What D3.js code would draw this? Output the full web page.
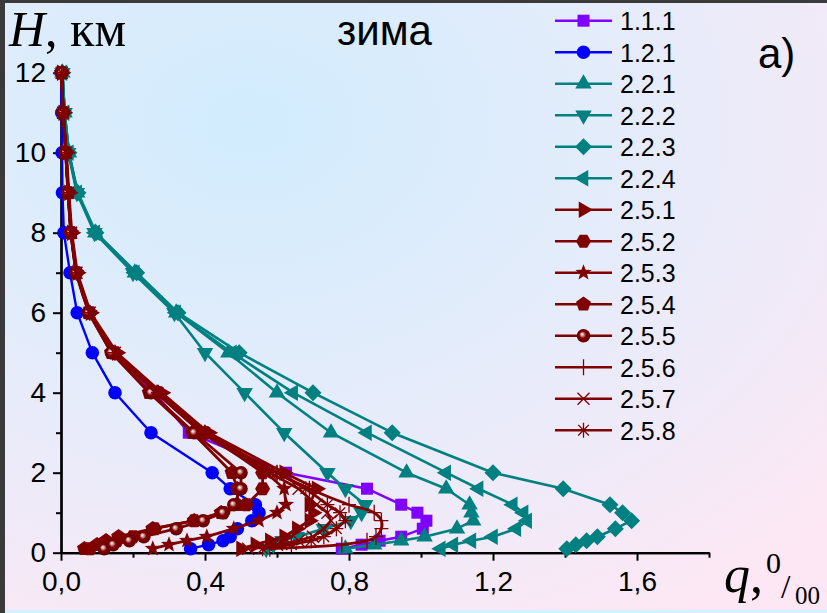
<!DOCTYPE html>
<html>
<head>
<meta charset="utf-8">
<script src="https://cdn.jsdelivr.net/npm/d3@7"></script>
<style>
  body { margin: 0; padding: 0; background: #fff; }
  svg { display: block; }
</style>
</head>
<body>
<svg id="chart" width="827" height="613"></svg>
<script>
// heights of the profile points, km
var heights = [0.1, 0.2, 0.3, 0.4, 0.6, 0.8, 1.0, 1.2, 1.6, 2, 3, 4, 5, 6, 7, 8, 9, 10, 11, 12];

// q values for each series (same order as heights)
var s111 = [0.78, 0.835, 0.885, 0.945, 1.005, 1.015, 0.99, 0.945, 0.85, 0.625, 0.355, 0.26, 0.145, 0.078, 0.042, 0.028, 0.02, 0.012, 0.006, 0.002];
var s121 = [0.36, 0.41, 0.45, 0.47, 0.49, 0.53, 0.55, 0.54, 0.47, 0.42, 0.25, 0.15, 0.087, 0.045, 0.025, 0.008, 0.004, 0.003, 0.002, 0.0];
var s221 = [0.79, 0.87, 0.945, 1.01, 1.10, 1.145, 1.14, 1.135, 1.07, 0.96, 0.75, 0.60, 0.465, 0.32, 0.205, 0.095, 0.045, 0.022, 0.01, 0.004];
var s222 = [0.57, 0.59, 0.615, 0.655, 0.73, 0.805, 0.835, 0.845, 0.79, 0.74, 0.62, 0.51, 0.40, 0.315, 0.20, 0.093, 0.044, 0.02, 0.01, 0.004];
var s223 = [1.405, 1.43, 1.46, 1.49, 1.54, 1.585, 1.56, 1.525, 1.395, 1.20, 0.92, 0.70, 0.495, 0.325, 0.21, 0.097, 0.047, 0.022, 0.01, 0.004];
var s224 = [1.055, 1.09, 1.14, 1.20, 1.265, 1.295, 1.285, 1.255, 1.16, 1.07, 0.85, 0.645, 0.475, 0.32, 0.205, 0.095, 0.045, 0.022, 0.01, 0.004];
var s251 = [0.50, 0.54, 0.58, 0.62, 0.655, 0.69, 0.70, 0.69, 0.71, 0.62, 0.41, 0.28, 0.155, 0.082, 0.045, 0.03, 0.022, 0.015, 0.006, 0.002];
var s252 = [0.08, 0.115, 0.155, 0.20, 0.26, 0.37, 0.45, 0.515, 0.56, 0.56, 0.40, 0.27, 0.15, 0.08, 0.043, 0.028, 0.02, 0.014, 0.006, 0.002];
var s253 = [0.255, 0.30, 0.35, 0.405, 0.48, 0.55, 0.60, 0.625, 0.62, 0.57, 0.39, 0.265, 0.15, 0.08, 0.043, 0.028, 0.02, 0.014, 0.006, 0.002];
var s254 = [0.065, 0.10, 0.125, 0.16, 0.255, 0.37, 0.445, 0.49, 0.49, 0.475, 0.365, 0.245, 0.14, 0.077, 0.042, 0.027, 0.02, 0.013, 0.006, 0.002];
var s255 = [0.12, 0.145, 0.19, 0.23, 0.32, 0.395, 0.45, 0.48, 0.50, 0.50, 0.37, 0.25, 0.14, 0.077, 0.042, 0.027, 0.019, 0.013, 0.006, 0.002];
var s256 = [0.58, 0.78, 0.85, 0.875, 0.89, 0.89, 0.87, 0.80, 0.69, 0.60, 0.40, 0.27, 0.15, 0.08, 0.043, 0.028, 0.02, 0.014, 0.006, 0.002];
var s257 = [0.52, 0.60, 0.66, 0.70, 0.73, 0.75, 0.74, 0.71, 0.66, 0.58, 0.39, 0.265, 0.15, 0.08, 0.043, 0.028, 0.02, 0.014, 0.006, 0.002];
var s258 = [0.56, 0.64, 0.695, 0.73, 0.765, 0.79, 0.775, 0.74, 0.68, 0.60, 0.40, 0.27, 0.15, 0.08, 0.043, 0.028, 0.02, 0.014, 0.006, 0.002];

var seriesNames = ["1.1.1", "1.2.1", "2.2.1", "2.2.2", "2.2.3", "2.2.4", "2.5.1", "2.5.2", "2.5.3", "2.5.4", "2.5.5", "2.5.6", "2.5.7", "2.5.8"];
var seriesValues = [s111, s121, s221, s222, s223, s224, s251, s252, s253, s254, s255, s256, s257, s258];
var seriesMarkers = ["square", "circle", "up", "down", "diamond", "left", "right", "hexagon", "star", "pentagon", "sphere", "plus", "cross", "asterisk"];

var xTicks = [0, 0.4, 0.8, 1.2, 1.6];
var xMinor = [0.2, 0.6, 1.0, 1.4, 1.8];
var yTicks = [0, 2, 4, 6, 8, 10, 12];
var yMinor = [1, 3, 5, 7, 9, 11];

var PURPLE = "#8000ff", BLUE = "#0000ff", TEAL = "#008080", DARKRED = "#800000";

function seriesColor(i) {
  if (i == 0) return PURPLE;
  if (i == 1) return BLUE;
  if (i < 6) return TEAL;
  return DARKRED;
}

function polygon(n, r, start) {
  var pts = [];
  for (var k = 0; k < n; k++) {
    var a = start + k * 2 * Math.PI / n;
    pts.push([r * Math.cos(a), r * Math.sin(a)]);
  }
  return "M" + pts.map(function(p) { return p[0].toFixed(2) + "," + p[1].toFixed(2); }).join("L") + "Z";
}

function starPath(ro, ri) {
  var pts = [];
  for (var k = 0; k < 10; k++) {
    var r = k % 2 == 0 ? ro : ri;
    var a = -Math.PI / 2 + k * Math.PI / 5;
    pts.push([r * Math.cos(a), r * Math.sin(a)]);
  }
  return "M" + pts.map(function(p) { return p[0].toFixed(2) + "," + p[1].toFixed(2); }).join("L") + "Z";
}

// marker shape -> svg path (centered on 0,0)
function markerPath(type) {
  switch (type) {
    case "square": return "M-6,-6H6V6H-6Z";
    case "up": return polygon(3, 9.5, -Math.PI / 2);
    case "down": return polygon(3, 9.5, Math.PI / 2);
    case "left": return polygon(3, 9.5, Math.PI);
    case "right": return polygon(3, 9.5, 0);
    case "diamond": return "M0,-8.5L8.5,0L0,8.5L-8.5,0Z";
    case "hexagon": return polygon(6, 7.5, 0);
    case "pentagon": return polygon(5, 7.8, -Math.PI / 2);
    case "star": return starPath(8.5, 3.6);
    case "plus": return "M-7,0H7M0,-8V8";
    case "cross": return "M-6,-6L6,6M-6,6L6,-6";
    case "asterisk": return "M-7,0H7M0,-7.5V7.5M-5.3,-5.3L5.3,5.3M-5.3,5.3L5.3,-5.3";
  }
  return null;
}

function drawMarker(g, type, color, cx, cy) {
  if (type == "circle" || type == "sphere") {
    g.append("circle").attr("cx", cx).attr("cy", cy).attr("r", 6.8)
      .attr("fill", type == "circle" ? color : "url(#sphereGrad)");
    return;
  }
  var p = g.append("path").attr("d", markerPath(type))
    .attr("transform", "translate(" + cx + "," + cy + ")");
  if (type == "plus" || type == "cross" || type == "asterisk") {
    p.attr("fill", "none").attr("stroke", color).attr("stroke-width", 1.3);
  } else {
    p.attr("fill", color);
  }
}

var svg = d3.select("#chart");
var defs = svg.append("defs");

// soft blue -> pink background
var bg = defs.append("radialGradient").attr("id", "bgGrad")
  .attr("cx", "0.3").attr("cy", "0.2").attr("r", "0.95");
bg.append("stop").attr("offset", "0").attr("stop-color", "#d1ecfd");
bg.append("stop").attr("offset", "0.45").attr("stop-color", "#e3ecfb");
bg.append("stop").attr("offset", "0.75").attr("stop-color", "#f1eaf8");
bg.append("stop").attr("offset", "1").attr("stop-color", "#fde7f4");

var sg = defs.append("radialGradient").attr("id", "sphereGrad")
  .attr("cx", "0.5").attr("cy", "0.5").attr("r", "0.5")
  .attr("fx", "0.38").attr("fy", "0.38");
sg.append("stop").attr("offset", "0").attr("stop-color", "#ffffff");
sg.append("stop").attr("offset", "0.22").attr("stop-color", "#d0a0a0");
sg.append("stop").attr("offset", "0.5").attr("stop-color", DARKRED);
sg.append("stop").attr("offset", "1").attr("stop-color", "#650000");

svg.append("rect").attr("width", 827).attr("height", 613).attr("fill", "url(#bgGrad)");
// dark frame on top and left, thin light strip at the bottom
svg.append("rect").attr("x", 0).attr("y", 0).attr("width", 827).attr("height", 3).attr("fill", "#3a3a3a");
svg.append("rect").attr("x", 0).attr("y", 0).attr("width", 5).attr("height", 613).attr("fill", "#3a3a3a");
svg.append("rect").attr("x", 5).attr("y", 610).attr("width", 822).attr("height", 3).attr("fill", "#d2f2ff");

var x = d3.scaleLinear().domain([0, 1.8]).range([61, 709]);
var y = d3.scaleLinear().domain([0, 12]).range([552.7, 72.7]);

var commaFmt = function(d) { return d.toFixed(1).replace(".", ","); };

// axes
svg.append("g").attr("transform", "translate(0," + y(0) + ")")
  .call(d3.axisBottom(x).tickValues(xTicks).tickFormat(commaFmt).tickSize(8).tickSizeOuter(0).tickPadding(10));
svg.append("g").attr("transform", "translate(0," + y(0) + ")")
  .call(d3.axisBottom(x).tickValues(xMinor).tickFormat("").tickSize(5).tickSizeOuter(0));
svg.append("g").attr("transform", "translate(" + x(0) + ",0)")
  .call(d3.axisLeft(y).tickValues(yTicks).tickFormat(d3.format("d")).tickSize(8).tickSizeOuter(0).tickPadding(7));
svg.append("g").attr("transform", "translate(" + x(0) + ",0)")
  .call(d3.axisLeft(y).tickValues(yMinor).tickFormat("").tickSize(5).tickSizeOuter(0));

svg.selectAll(".domain").attr("stroke", "#000").attr("stroke-width", 2.2);
svg.selectAll(".tick line").attr("stroke", "#000").attr("stroke-width", 2);
svg.selectAll(".tick text").attr("fill", "#000")
  .style("font-family", "'Liberation Sans', Arial, sans-serif").style("font-size", "28px");

// series lines + markers
var plot = svg.append("g");
seriesValues.forEach(function(vals, i) {
  var color = seriesColor(i);
  var pts = vals.map(function(v, j) { return [x(v), y(heights[j])]; });
  var line = d3.line().curve(seriesMarkers[i] == "plus" ? d3.curveCatmullRom : d3.curveLinear);
  plot.append("path").attr("d", line(pts))
    .attr("fill", "none").attr("stroke", color)
    .attr("stroke-width", i < 2 ? 2.4 : (i < 6 ? 2.6 : 2.8)).attr("stroke-linejoin", "round");
  var mg = plot.append("g");
  pts.forEach(function(p) { drawMarker(mg, seriesMarkers[i], color, p[0], p[1]); });
});

// legend
var legend = svg.append("g");
seriesNames.forEach(function(name, i) {
  var ly = 20.7 + i * 31.5;
  var color = seriesColor(i);
  legend.append("line").attr("x1", 555).attr("x2", 612).attr("y1", ly).attr("y2", ly)
    .attr("stroke", color).attr("stroke-width", 2.4);
  drawMarker(legend, seriesMarkers[i], color, 583.5, ly);
  legend.append("text").attr("x", 620).attr("y", ly + 9.5)
    .style("font-family", "'Liberation Sans', Arial, sans-serif").style("font-size", "25px")
    .text(name);
});

// titles and axis names
svg.append("text").attr("x", 337).attr("y", 45)
  .style("font-family", "'Liberation Sans', Arial, sans-serif").style("font-size", "42px")
  .text("зима");
svg.append("text").attr("x", 758).attr("y", 68)
  .style("font-family", "'Liberation Sans', Arial, sans-serif").style("font-size", "42px")
  .text("а)");

var hLabel = svg.append("text").attr("x", 9).attr("y", 46)
  .style("font-family", "'Liberation Serif', 'Times New Roman', serif").style("font-size", "50px");
hLabel.append("tspan").style("font-style", "italic").text("H");
hLabel.append("tspan").text(", км");

var qLabel = svg.append("text").attr("x", 724).attr("y", 592)
  .style("font-family", "'Liberation Serif', 'Times New Roman', serif").style("font-size", "52px");
qLabel.append("tspan").style("font-style", "italic").text("q");
qLabel.append("tspan").text(",");
svg.append("text").attr("x", 766).attr("y", 573)
  .style("font-family", "'Liberation Serif', 'Times New Roman', serif").style("font-size", "30px").text("0");
svg.append("text").attr("x", 781).attr("y", 598)
  .style("font-family", "'Liberation Serif', 'Times New Roman', serif").style("font-size", "34px").text("/");
svg.append("text").attr("x", 795).attr("y", 604)
  .style("font-family", "'Liberation Serif', 'Times New Roman', serif").style("font-size", "25px").text("00");
</script>
</body>
</html>
